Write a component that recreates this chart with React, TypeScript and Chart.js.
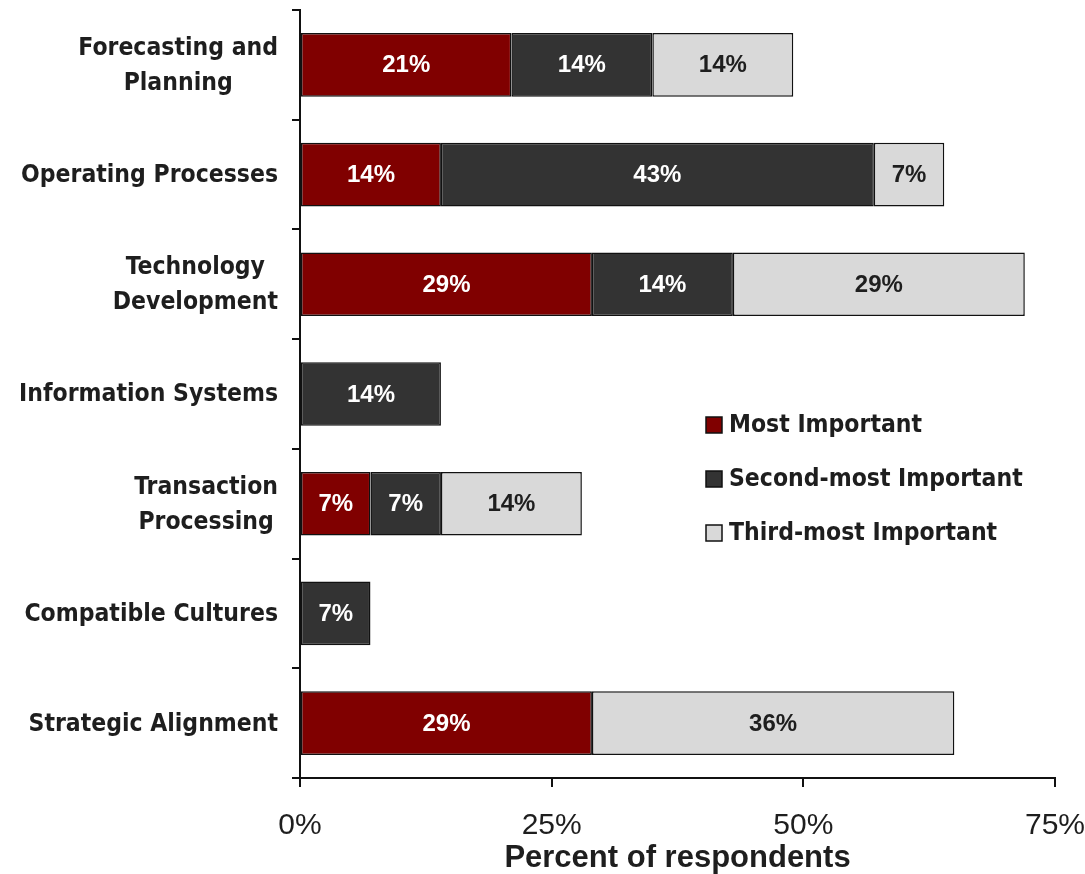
import { useEffect, useRef } from "react";
import { Chart, registerables } from "chart.js";

Chart.register(...registerables);

// Category names (one entry per line of the axis label)
const categories: string[][] = [
  ["Forecasting and", "Planning"],
  ["Operating Processes"],
  ["Technology", "Development"],
  ["Information Systems"],
  ["Transaction", "Processing"],
  ["Compatible Cultures"],
  ["Strategic Alignment"],
];

const seriesNames = ["Most Important", "Second-most Important", "Third-most Important"];

// Percent of respondents per category
const mostImportant = [21, 14, 29, 0, 7, 0, 29];
const secondMost = [14, 43, 14, 14, 7, 7, 0];
const thirdMost = [14, 7, 29, 0, 14, 0, 36];

const xTickValues = [0, 25, 50, 75];
const xAxisTitle = "Percent of respondents";

const COLORS = ["#800000", "#333333", "#d9d9d9"];
const LABEL_COLORS = ["#ffffff", "#ffffff", "#1e1e1e"];
const TEXT_COLOR = "#1e1e1e";
const CAT_FONT = 'bold 24.5px "DejaVu Sans Condensed", "DejaVu Sans", sans-serif';
const BAR_FONT = 'bold 24px "Liberation Sans", Arial, sans-serif';

// Writes the value inside each non-empty bar segment
const barValuePlugin = {
  id: "barValues",
  afterDatasetsDraw(chart: any) {
    const ctx = chart.ctx;
    ctx.save();
    ctx.font = BAR_FONT;
    ctx.textAlign = "center";
    ctx.textBaseline = "middle";
    chart.data.datasets.forEach((ds: any, di: number) => {
      const meta = chart.getDatasetMeta(di);
      meta.data.forEach((el: any, i: number) => {
        const v = ds.data[i];
        if (v == null || v === 0) return;
        const { x, y, base } = el.getProps(["x", "y", "base"], true);
        ctx.fillStyle = LABEL_COLORS[di];
        ctx.fillText(`${v}%`, (x + base) / 2, y + 1);
      });
    });
    ctx.restore();
  },
};

// Multi-line category labels: block right-aligned, lines centred within it
const categoryLabelPlugin = {
  id: "categoryLabels",
  afterDraw(chart: any) {
    const ctx = chart.ctx;
    const yScale = chart.scales.y;
    const right = chart.chartArea.left - 22;
    const lineHeight = 35;
    ctx.save();
    ctx.font = CAT_FONT;
    ctx.fillStyle = TEXT_COLOR;
    ctx.textAlign = "center";
    ctx.textBaseline = "middle";
    categories.forEach((lines, i) => {
      const cy = yScale.getPixelForValue(i);
      const blockW = Math.max(...lines.map((l) => ctx.measureText(l).width));
      const cx = right - blockW / 2;
      const y0 = cy - ((lines.length - 1) * lineHeight) / 2;
      lines.forEach((line, j) => ctx.fillText(line, cx, y0 + j * lineHeight + 1));
    });
    ctx.restore();
  },
};

// Legend drawn inside the plot area
const insideLegendPlugin = {
  id: "insideLegend",
  afterDraw(chart: any) {
    const ctx = chart.ctx;
    const { left, top } = chart.chartArea;
    const x0 = left + 406;
    const y0 = top + 415;
    const rowGap = 54;
    const box = 16;
    ctx.save();
    ctx.font = CAT_FONT;
    ctx.textBaseline = "middle";
    ctx.textAlign = "left";
    chart.data.datasets.forEach((ds: any, i: number) => {
      const cy = y0 + i * rowGap;
      ctx.fillStyle = ds.backgroundColor;
      ctx.fillRect(x0, cy - box / 2, box, box);
      ctx.lineWidth = 1.5;
      ctx.strokeStyle = "#111";
      ctx.strokeRect(x0, cy - box / 2, box, box);
      ctx.fillStyle = TEXT_COLOR;
      ctx.fillText(ds.label, x0 + box + 7, cy + 1);
    });
    ctx.restore();
  },
};

export default function App() {
  const canvasRef = useRef<HTMLCanvasElement | null>(null);

  useEffect(() => {
    document.body.style.margin = "0";
    const canvas = canvasRef.current;
    if (!canvas) return;
    const series = [mostImportant, secondMost, thirdMost];
    const chart = new Chart(canvas, {
      type: "bar",
      data: {
        labels: categories.map((l) => l.join(" ")),
        datasets: series.map((vals, i) => ({
          label: seriesNames[i],
          data: vals.map((v) => (v === 0 ? null : v)),
          backgroundColor: COLORS[i],
          borderColor: "#111111",
          borderWidth: 1.5,
          borderSkipped: false,
          categoryPercentage: 1,
          barPercentage: 0.58,
        })),
      },
      options: {
        indexAxis: "y",
        animation: false,
        responsive: true,
        maintainAspectRatio: false,
        layout: { padding: { top: 10, right: 30, left: 0, bottom: 0 } },
        plugins: {
          legend: { display: false },
          tooltip: { enabled: false },
        },
        scales: {
          x: {
            stacked: true,
            min: 0,
            max: 75,
            afterBuildTicks: (scale: any) => {
              scale.ticks = xTickValues.map((v) => ({ value: v }));
            },
            afterFit: (scale: any) => {
              scale.height = 96;
              scale.paddingLeft = 0;
              scale.paddingRight = 0;
            },
            ticks: {
              autoSkip: false,
              maxRotation: 0,
              padding: 21,
              color: TEXT_COLOR,
              font: { family: '"Liberation Sans", Arial, sans-serif', size: 30 },
              callback: (v: any) => `${v}%`,
            },
            grid: {
              drawOnChartArea: false,
              drawTicks: true,
              tickLength: 9,
              color: "#111",
              lineWidth: 2,
            },
            border: { display: true, color: "#111", width: 2 },
            title: {
              display: true,
              text: xAxisTitle,
              color: TEXT_COLOR,
              padding: { top: 0, bottom: 0 },
              font: { family: '"Liberation Sans", Arial, sans-serif', size: 31, weight: "bold", lineHeight: 1 },
            },
          },
          y: {
            stacked: true,
            afterFit: (scale: any) => {
              scale.width = 300;
            },
            ticks: { display: false },
            grid: {
              drawOnChartArea: false,
              drawTicks: true,
              offset: true,
              tickLength: 8,
              color: "#111",
              lineWidth: 2,
            },
            border: { display: true, color: "#111", width: 2 },
          },
        },
      },
      plugins: [barValuePlugin, categoryLabelPlugin, insideLegendPlugin],
    } as any);
    return () => chart.destroy();
  }, []);

  return (
    <div style={{ position: "relative", width: 1085, height: 874 }}>
      <canvas ref={canvasRef} />
    </div>
  );
}
